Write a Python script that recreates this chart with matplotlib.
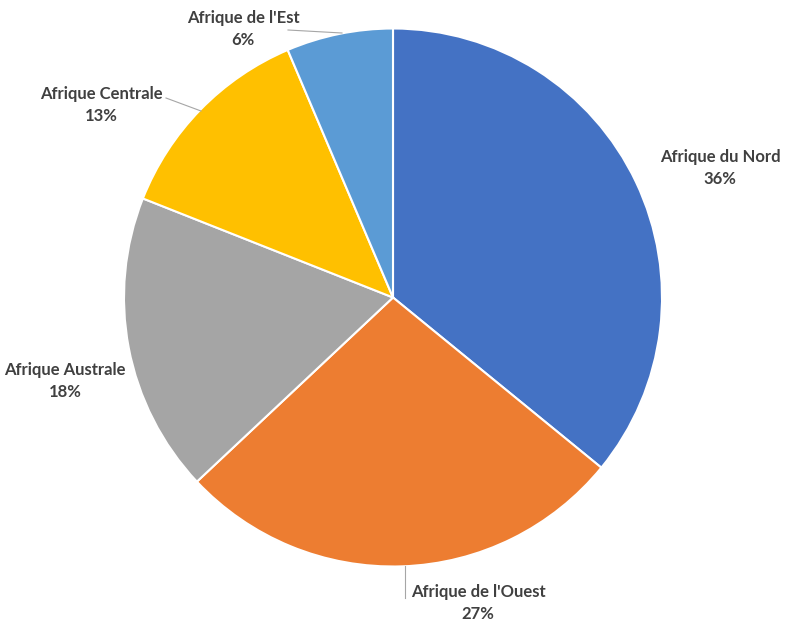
import matplotlib
matplotlib.use("Agg")
import matplotlib.pyplot as plt

# donnees
regions = ["Afrique du Nord", "Afrique de l'Ouest", "Afrique Australe",
           "Afrique Centrale", "Afrique de l'Est"]
parts = [35.9, 27.1, 18.0, 12.6, 6.4]
couleurs = ["#4472C4", "#ED7D31", "#A5A5A5", "#FFC000", "#5B9BD5"]

# positions des etiquettes (pixels, origine en haut a gauche)
pos_etiquettes = [(720, 168), (478, 603), (65, 381), (101, 105), (243, 29)]
lignes = [None, [(405, 566), (405, 598)], None,
          [(166, 98), (201, 111)], [(288, 30), (342, 33)]]

W, H = 800, 628
fig = plt.figure(figsize=(8, 6.28), dpi=100)
ax = fig.add_axes([0, 0, 1, 1])
ax.set_xlim(0, W)
ax.set_ylim(0, H)
ax.set_aspect("equal")
ax.axis("off")

ax.pie(parts, colors=couleurs, startangle=90, counterclock=False,
       center=(393, H - 297.5), radius=269,
       wedgeprops=dict(edgecolor="white", linewidth=1.5))
ax.set_xlim(0, W)
ax.set_ylim(0, H)

for nom, p, (x, y), l in zip(regions, parts, pos_etiquettes, lignes):
    ax.text(x, H - y, f"{nom}\n{p:.0f}%", ha="center", va="center",
            fontsize=12, fontweight="bold", color="#404040",
            family="Lato", linespacing=1.5)
    if l is not None:
        ax.plot([l[0][0], l[1][0]], [H - l[0][1], H - l[1][1]],
                color="#A6A6A6", lw=0.8)

fig.savefig("out.png", dpi=100)
